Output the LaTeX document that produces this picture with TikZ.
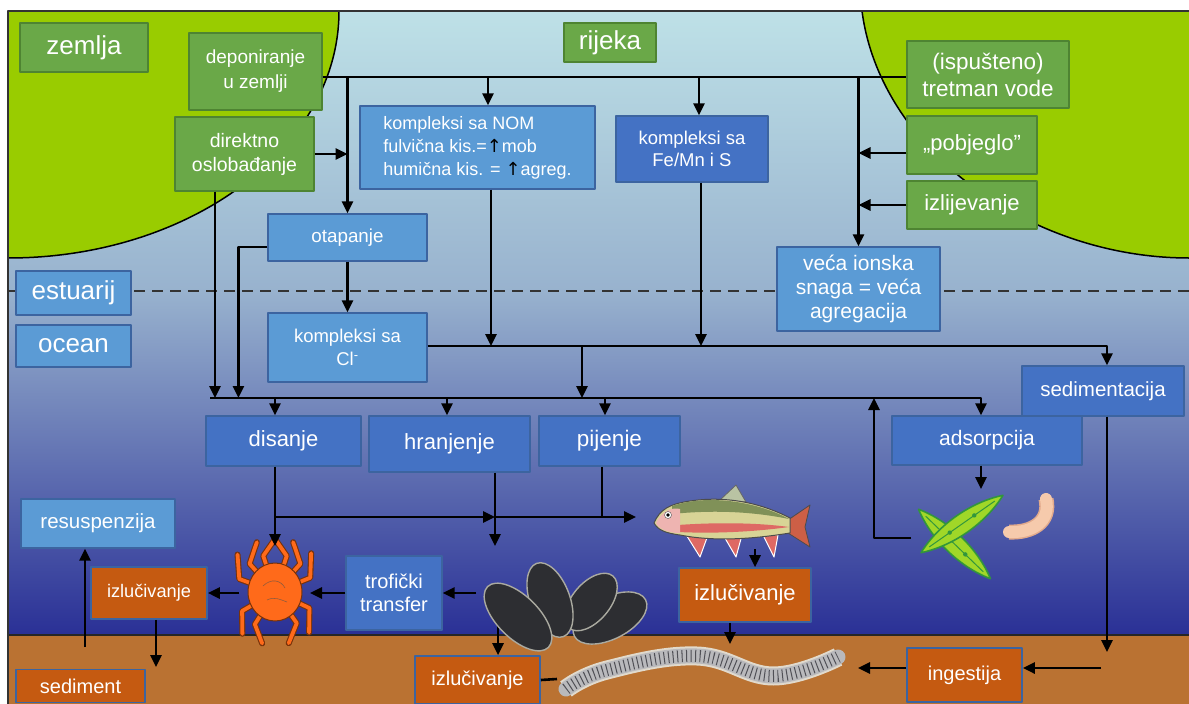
\documentclass[tikz,border=0pt]{standalone}
\usepackage{fontspec}
\setmainfont{Liberation Sans}
\newfontfamily\arrowsfont{DejaVu Sans}
\usetikzlibrary{arrows.meta}
\definecolor{boxgreen}{RGB}{106,168,72}
\definecolor{edgegreen}{RGB}{78,132,50}
\definecolor{landgreen}{RGB}{153,204,0}
\definecolor{lightblue}{RGB}{91,155,213}
\definecolor{darkblue}{RGB}{68,114,196}
\definecolor{edgeblue}{RGB}{60,100,160}
\definecolor{orangefill}{RGB}{197,90,17}
\definecolor{seabed}{RGB}{186,114,50}
\definecolor{watertop}{RGB}{190,225,231}
\definecolor{watermid}{RGB}{152,178,206}
\definecolor{waterdeep}{RGB}{42,48,150}
\definecolor{crabor}{RGB}{255,106,26}
\definecolor{crabedge}{RGB}{120,50,10}
\definecolor{fishbody}{RGB}{216,212,150}
\definecolor{fishback}{RGB}{128,145,88}
\definecolor{fishred}{RGB}{222,105,100}
\definecolor{fishtail}{RGB}{205,95,70}
\definecolor{musselc}{RGB}{45,46,50}
\definecolor{musselrim}{RGB}{170,170,160}
\definecolor{wormbody}{RGB}{185,185,188}
\definecolor{wormedge}{RGB}{225,218,205}
\definecolor{wormstripe}{RGB}{80,80,86}
\definecolor{diatomc}{RGB}{160,215,40}
\definecolor{diatomedge}{RGB}{50,150,60}
\definecolor{bactc}{RGB}{246,202,172}
\definecolor{bactedge}{RGB}{226,170,140}
\newcommand{\uparr}{{\arrowsfont\color{black}↑}}

\begin{document}
\begin{tikzpicture}[x=1pt,y=-1pt,line join=round,>={Triangle[length=12pt,width=11pt]},
  basebox/.style={line width=1.2pt,text=white,align=center,inner sep=2pt},
  greenbox/.style={basebox,draw=edgegreen,fill=boxgreen},
  lightbox/.style={basebox,draw=edgeblue,fill=lightblue},
  darkbox/.style={basebox,draw=edgeblue,fill=darkblue},
  orangebox/.style={basebox,draw=edgeblue,fill=orangefill,line width=1.6pt},
  boxsize/.style 2 args={minimum width=#1pt,minimum height=#2pt},
  fs/.style 2 args={font=\fontsize{#1}{#2}\selectfont},
  link/.style={line width=2.6pt},
  flow/.style={link,->},
  crableg/.style={line width=1.1pt,draw=crabedge,double=crabor,double distance=3.8pt,line cap=round},
  mussel/.style={fill=musselc,draw=musselrim,line width=1.4pt},
  diatom/.style={fill=diatomc,draw=diatomedge,line width=1.6pt}]
\useasboundingbox (0,0) rectangle (1189,704);
\fill[white] (0,0) rectangle (1189,704);
\shade[top color=watertop,bottom color=watermid] (8,11) rectangle (1189,291);
\shade[top color=watermid,bottom color=waterdeep] (8,291) rectangle (1189,635);
\fill[seabed] (8,635) rectangle (1189,704);
\draw[line width=1.2pt,black!85] (8,635) -- (1189,635);
\fill[landgreen] (8,11) -- (339,11) .. controls (339,147) and (191,258) .. (8,258) -- cycle;
\draw[line width=1.5pt] (339,11) .. controls (339,147) and (191,258) .. (8,258);
\fill[landgreen] (862,11) .. controls (880,150) and (1030,258) .. (1189,258) -- (1189,11) -- cycle;
\draw[line width=1.5pt] (862,11) .. controls (880,150) and (1030,258) .. (1189,258);
\draw[line width=2pt,black!80,dash pattern=on 11pt off 7pt] (8,291) -- (1189,291);
\draw[line width=1.5pt,black!80] (8,704) -- (8,11) -- (1189,11);

\node[greenbox,boxsize={128}{49},fs={26}{30}] (zem) at (84,47.5) {zemlja};
\node[greenbox,boxsize={92}{39},fs={26}{30}] (rij) at (610,42.5) {rijeka};
\node[greenbox,boxsize={133}{77},fs={19}{25}] (dep) at (255.5,71.5) {deponiranje\\u zemlji};
\node[greenbox,boxsize={139}{74},fs={19.5}{24}] (direk) at (244.5,154) {direktno\\oslobađanje};
\node[lightbox,boxsize={235}{83},fs={18}{23},align=left] (nom) at (477.5,147.5) {kompleksi sa NOM\\fulvična kis.=\uparr mob\\humična kis. = \uparr agreg.};
\node[darkbox,boxsize={152}{66},fs={18.5}{22}] (femn) at (692,149) {kompleksi sa\\Fe/Mn i S};
\node[greenbox,boxsize={162}{67},fs={22.5}{27}] (isp) at (988,74.5) {(ispušteno)\\tretman vode};
\node[greenbox,boxsize={130}{58},fs={22}{26}] (pob) at (972,145) {„pobjeglo”};
\node[greenbox,boxsize={130}{48},fs={22}{26}] (izl) at (972,205) {izlijevanje};
\node[lightbox,boxsize={159}{47},fs={18.8}{23}] (otap) at (347.5,237.5) {otapanje};
\node[lightbox,boxsize={163}{84},fs={21}{24}] (veca) at (858.5,289) {veća ionska\\snaga = veća\\agregacija};
\node[lightbox,boxsize={115}{44},fs={26}{30}] (est) at (73.5,293) {estuarij};
\node[lightbox,boxsize={115}{42},fs={26}{30}] (oce) at (73.5,346) {ocean};
\node[lightbox,boxsize={159}{69},fs={18.5}{23}] (cl) at (347.5,347.5) {kompleksi sa\\Cl\textsuperscript{-}};
\node[darkbox,boxsize={162}{50},fs={20.5}{24}] (sed) at (1103,391) {sedimentacija};
\node[darkbox,boxsize={155}{50},fs={22}{26}] (dis) at (283.5,441) {disanje};
\node[darkbox,boxsize={161}{56},fs={22}{26}] (hran) at (449.5,444) {hranjenje};
\node[darkbox,boxsize={141}{50},fs={22.5}{26}] (pij) at (609.5,441) {pijenje};
\node[darkbox,boxsize={190}{49},fs={21}{25}] (ads) at (987,440.5) {adsorpcija};
\node[lightbox,boxsize={154}{49},fs={20.5}{24}] (res) at (98,523.5) {resuspenzija};
\node[orangebox,boxsize={116}{52},fs={18.2}{22}] (iz1) at (149,593) {izlučivanje};
\node[darkbox,boxsize={96}{74},fs={20}{23}] (trof) at (394,593) {trofički\\transfer};
\node[orangebox,boxsize={132}{54},fs={22}{26}] (iz2) at (745,595) {izlučivanje};
\node[orangebox,boxsize={125}{48},fs={20}{24}] (iz3) at (477.5,680) {izlučivanje};
\node[orangebox,boxsize={129}{33},fs={20}{24}] (sedi) at (80.5,686) {sediment};
\node[orangebox,boxsize={115}{54},fs={20}{24}] (ing) at (964.5,675) {ingestija};

\coordinate (trunk) at (0,77);
\coordinate (clbus) at (0,346);
\coordinate (bus) at (0,398);
\coordinate (foodbus) at (0,517);
\coordinate (busW) at (210,398);
\coordinate (pjx) at (582,346);
\coordinate (upj) at (874,398);
\coordinate (diatW) at (911,538);
\coordinate (diatN) at (981,489);
\coordinate (crabN) at (275,546);
\coordinate (crabE) at (310,593);
\coordinate (crabW) at (239,593);
\coordinate (musN) at (495,546);
\coordinate (musW) at (476,593);
\coordinate (musS) at (498,625);
\coordinate (fishW) at (636,517);
\coordinate (fishS) at (755,549);
\coordinate (wormN) at (730,644);
\coordinate (wormW) at (557,679);
\coordinate (wormE) at (858,668);
\coordinate (ingR) at (1101,668);
\coordinate (sedend) at (1107,652);
\coordinate (sedN) at (156,667);
\coordinate (resfoot) at (85,647);

\draw[link] (dep.east |- trunk) -- (isp.west |- trunk);
\draw[flow] (otap.north |- trunk) -- (otap.north);
\draw[flow] ([xshift=10.5pt]nom.north |- trunk) -- ([xshift=10.5pt]nom.north);
\draw[flow] ([xshift=7pt]femn.north |- trunk) -- ([xshift=7pt]femn.north);
\draw[flow] (veca.north |- trunk) -- (veca.north);
\draw[flow] ([yshift=-8pt]pob.west) -- ([yshift=-8pt]pob.west -| veca.north);
\draw[flow] (izl.west) -- (izl.west -| veca.north);
\draw[flow] (direk.east) -- (direk.east -| otap.north);
\draw[flow] ([xshift=-29.5pt]direk.south) -- ([xshift=-29.5pt]direk.south |- bus);
\draw[flow] ([yshift=-9.5pt]otap.west) -| ([xshift=-29pt]otap.west |- bus);
\draw[flow] (otap.south) -- (cl.north);
\draw[flow] ([xshift=13.5pt]nom.south) -- ([xshift=13.5pt]nom.south |- clbus);
\draw[flow] ([xshift=9pt]femn.south) -- ([xshift=9pt]femn.south |- clbus);
\draw[flow] (cl.east |- clbus) -| ([xshift=4pt]sed.north);
\draw[flow] (pjx) -- (pjx |- bus);
\draw[flow] (busW) -| ([xshift=-6pt]ads.north);
\draw[flow] ([xshift=-8.5pt]dis.north |- bus) -- ([xshift=-8.5pt]dis.north);
\draw[flow] ([xshift=-2.5pt]hran.north |- bus) -- ([xshift=-2.5pt]hran.north);
\draw[flow] ([xshift=-4.5pt]pij.north |- bus) -- ([xshift=-4.5pt]pij.north);
\draw[flow] (diatW) -| (upj);
\draw[flow] ([xshift=-6pt]ads.south) -- (diatN);
\draw[flow] ([xshift=4pt]sed.south) -- (sedend);
\draw[flow] (ingR) -- ([yshift=7pt]ing.east);
\draw[flow] ([yshift=7pt]ing.west) -- (wormE);
\draw[flow] (crabN |- foodbus) -- (musN |- foodbus);
\draw[flow] (musN |- foodbus) -- (fishW);
\draw[flow] ([xshift=45.5pt]hran.south) -- (musN);
\draw[link] ([xshift=-7.5pt]pij.south) -- ([xshift=-7.5pt]pij.south |- foodbus);
\draw[flow] (fishS) -- ([xshift=10pt]iz2.north);
\draw[flow] ([xshift=-15pt]iz2.south) -- (wormN);
\draw[flow] (musW) -- (trof.east);
\draw[flow] (trof.west) -- (crabE);
\draw[flow] (crabW) -- (iz1.east);
\draw[flow] ([xshift=7pt]iz1.south) -- (sedN);
\draw[flow] (resfoot) -- ([xshift=-13pt]res.south);
\draw[flow] (musS) -- ([xshift=20.5pt]iz3.north);
\draw[link] (iz3.east) -- (wormW);

\begin{scope}[shift={(275,592)}]
\foreach \a/\d in {200/25,228/22,252/18,150/-22,122/-18,288/-18,312/-22,338/-25,25/25,55/20}
  \draw[crableg] (\a:22) -- (\a:38) -- (\a+\d:53);
\filldraw[fill=crabor,draw=crabedge,line width=1pt] (0,0) ellipse [x radius=27,y radius=29];
\draw[crabedge!80,line width=0.6pt] (-12,-6) .. controls (-4,-14) and (6,-12) .. (10,-4) (-8,8) .. controls (0,4) and (6,8) .. (12,10);
\end{scope}
\draw[flow] ([xshift=-8.5pt]dis.south) -- (crabN);

\begin{scope}[shift={(650,485)}]
\filldraw[fill=fishtail,draw=black!70,line width=0.8pt] (138,35) -- (160,20) -- (155,42) -- (160,62) -- (138,48) -- cycle;
\filldraw[fill=fishback!55!white,draw=black!60,line width=0.8pt] (70,15) -- (86,0) -- (96,17) -- cycle;
\foreach \p/\q/\r in {35/50/58,72/86/92,112/124/128}
  \filldraw[fill=fishred,draw=white,line width=1pt] (\p,48) -- (\q,72) -- (\r,50) -- cycle;
\filldraw[fill=fishbody,draw=black!70,line width=1pt] (4,38) .. controls (10,24) and (20,19) .. (40,16) .. controls (80,10) and (115,20) .. (140,33) -- (140,48) .. controls (115,52) and (70,58) .. (30,50) .. controls (15,48) and (8,45) .. (4,38) -- cycle;
\fill[fishback] (22,21) .. controls (60,8) and (110,18) .. (139,34) .. controls (110,28) and (70,24) .. (22,29) -- cycle;
\fill[fishred] (28,40) .. controls (70,37) and (110,38) .. (139,42) .. controls (110,46) and (70,49) .. (28,47) -- cycle;
\fill[fishred!50!white] (6,38) .. controls (12,26) and (22,22) .. (30,24) -- (30,48) .. controls (18,48) and (9,44) .. (6,38) -- cycle;
\filldraw[fill=white,draw=black!70] (18,30) circle (3.5);
\fill[black] (18,30) circle (1.8);
\end{scope}

\filldraw[mussel,rotate around={27:(610,618)}] (610,618) ellipse [x radius=40,y radius=21];
\filldraw[mussel,rotate around={50:(591,602)}] (591,602) ellipse [x radius=34,y radius=19];
\filldraw[mussel,rotate around={-70:(550,600)}] (550,600) ellipse [x radius=39,y radius=20];
\filldraw[mussel,rotate around={-45:(518,617)}] (518,617) ellipse [x radius=43,y radius=21];

\draw[line width=15pt,wormbody,line cap=round,preaction={draw,line width=19pt,wormedge},postaction={draw,line width=12pt,wormstripe,line cap=butt,dash pattern=on 1pt off 3.5pt}] plot[smooth,tension=.7] coordinates {(566,689) (607,670) (697,656) (773,676) (838,657)};

\begin{scope}[shift={(954.5,544)},rotate=-44]
\filldraw[diatom] (-50,0) .. controls (-20,-13) and (20,-13) .. (50,0) .. controls (20,13) and (-20,13) .. (-50,0) -- cycle;
\draw[diatomedge,line width=1pt] (-40,0) -- (40,0);
\fill[diatomedge] (-15,0) circle (2.2) (15,0) circle (2.2);
\end{scope}
\begin{scope}[shift={(962,524)},rotate=35]
\filldraw[diatom] (-50,0) .. controls (-20,-13) and (20,-13) .. (50,0) .. controls (20,13) and (-20,13) .. (-50,0) -- cycle;
\draw[diatomedge,line width=1pt] (-40,0) -- (40,0);
\fill[diatomedge] (-15,0) circle (2.2) (15,0) circle (2.2);
\end{scope}
\draw[line width=12pt,bactc,line cap=round,preaction={draw,line width=15pt,bactedge}] (1046,499) .. controls (1051,522) and (1032,533) .. (1009,532);
\end{tikzpicture}
\end{document}
